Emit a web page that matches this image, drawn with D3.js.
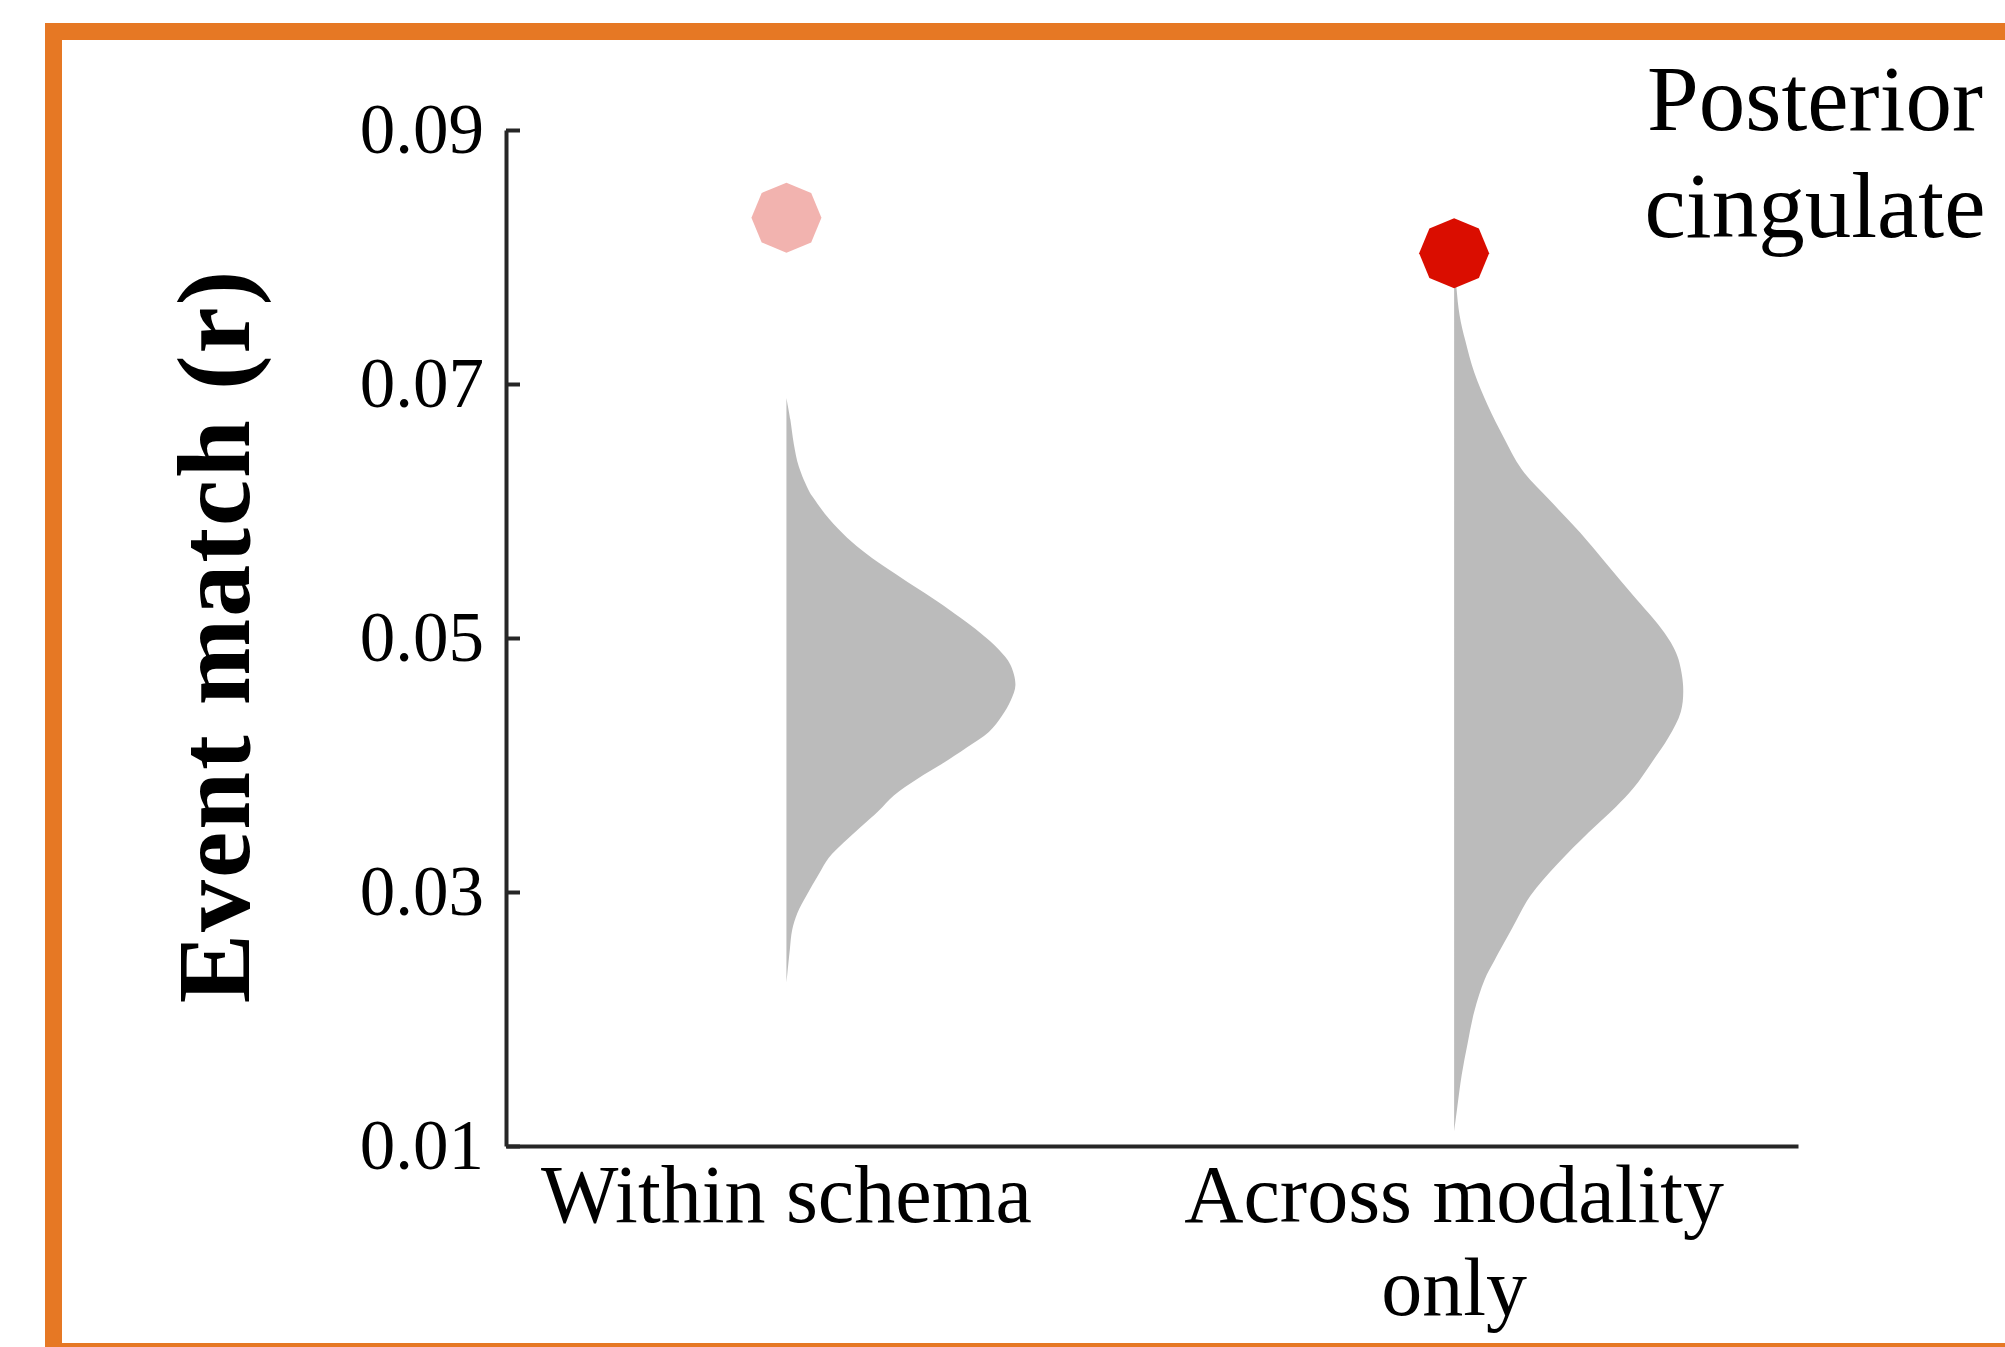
<!DOCTYPE html>
<html>
<head>
<meta charset="utf-8">
<script src="https://cdn.jsdelivr.net/npm/d3@7"></script>
<style>
  html, body { margin: 0; padding: 0; background: #ffffff; }
  svg { display: block; }
</style>
</head>
<body>
<script>
// ---------------- DATA ----------------
const categories = ["Within schema", "Across modality only"];
const categoryLabelLines = [["Within schema"], ["Across modality", "only"]];
const yTicks = [0.01, 0.03, 0.05, 0.07, 0.09];
const title = ["Posterior", "cingulate"];
const yTitle = "Event match (r)";

// observed event-match values (markers)
const observedValues = [0.0831, 0.0803];
const observedColors = ["#F2B3AF", "#DA0D00"];

// null distribution density (normalised) for "Within schema"
const withinValues = [0.0689, 0.0672, 0.0653, 0.0635, 0.0616, 0.0610, 0.0594, 0.0579, 0.0566, 0.0554,
  0.0541, 0.0529, 0.0516, 0.0504, 0.0491, 0.0479, 0.0463, 0.0451, 0.0439, 0.0426, 0.0414, 0.0401,
  0.0389, 0.0376, 0.0364, 0.0351, 0.0339, 0.0327, 0.0314, 0.0298, 0.0283, 0.0270, 0.0255, 0.0228];
const withinDensity = [0, 0.017, 0.032, 0.054, 0.098, 0.119, 0.185, 0.265, 0.352, 0.447,
  0.556, 0.658, 0.760, 0.847, 0.927, 0.978, 1.0, 0.98, 0.942, 0.884, 0.789, 0.680,
  0.571, 0.469, 0.403, 0.323, 0.25, 0.185, 0.141, 0.090, 0.047, 0.025, 0.015, 0];

// null distribution density (normalised) for "Across modality only"
const acrossValues = [0.0800, 0.0776, 0.0754, 0.0734, 0.0709, 0.0683, 0.0658, 0.0633, 0.0608, 0.0583,
  0.0558, 0.0533, 0.0508, 0.0493, 0.0483, 0.0462, 0.0442, 0.0422, 0.0402, 0.0382, 0.0367, 0.0347,
  0.0322, 0.0297, 0.0272, 0.0246, 0.0231, 0.0206, 0.0181, 0.0156, 0.0131, 0.0111];
const acrossDensity = [0, 0.010, 0.024, 0.049, 0.088, 0.147, 0.216, 0.294, 0.42, 0.55,
  0.667, 0.784, 0.902, 0.957, 0.98, 1.0, 0.99, 0.937, 0.863, 0.784, 0.706, 0.588,
  0.451, 0.333, 0.255, 0.176, 0.133, 0.088, 0.059, 0.033, 0.014, 0];

const violins = [
  { values: withinValues, density: withinDensity },
  { values: acrossValues, density: acrossDensity }
];

// ---------------- LAYOUT ----------------
const W = 2005, H = 1347;
const serif = "'Liberation Serif', 'DejaVu Serif', serif";
const axisColor = "#262626";
const violinFill = "#BBBBBB";
const violinHalfWidth = 229;
const markerRadius = 35;

const svg = d3.select("body").append("svg")
  .attr("width", W).attr("height", H)
  .attr("viewBox", `0 0 ${W} ${H}`);

svg.append("rect").attr("x", 0).attr("y", 0).attr("width", W).attr("height", H).attr("fill", "#fff");

// orange frame
svg.append("rect")
  .attr("x", 53.5).attr("y", 31.5)
  .attr("width", 2200).attr("height", 1320)
  .attr("fill", "none")
  .attr("stroke", "#E67824")
  .attr("stroke-width", 17);

// scales
const x = d3.scaleLinear().domain([0.58, 2.515]).range([506, 1798]);
const catX = i => x(i + 1);
const y = d3.scaleLinear().domain([0.01, 0.09]).range([1146, 130]);

// violins
violins.forEach((v, i) => {
  const cx = catX(i);
  const pts = v.values.map((val, k) => ({ val, d: v.density[k] }));
  const gen = d3.area()
    .curve(d3.curveCatmullRom.alpha(0.5))
    .y(d => y(d.val))
    .x0(cx)
    .x1(d => cx + d.d * violinHalfWidth);
  svg.append("path")
    .attr("d", gen(pts))
    .attr("fill", violinFill)
    .attr("stroke", "none");
});

// markers (octagons)
const octagon = d3.lineRadial()
  .angle((d, k) => k * Math.PI / 4)
  .radius(markerRadius)
  .curve(d3.curveLinearClosed);

observedValues.forEach((val, i) => {
  svg.append("path")
    .attr("d", octagon(d3.range(8)))
    .attr("transform", `translate(${catX(i)},${y(val)})`)
    .attr("fill", observedColors[i]);
});

// y axis
const yAxis = d3.axisLeft(y)
  .tickValues(yTicks)
  .tickFormat(d3.format(".2f"))
  .tickSizeInner(-14)
  .tickSizeOuter(0)
  .tickPadding(22);

const gy = svg.append("g").attr("transform", `translate(${x(0.58)},0)`).call(yAxis);
gy.select(".domain").attr("stroke", axisColor).attr("stroke-width", 4);
gy.selectAll(".tick line").attr("stroke", axisColor).attr("stroke-width", 4);
gy.selectAll(".tick text")
  .attr("font-family", serif)
  .attr("font-size", 71)
  .attr("fill", "#000");

// x axis
const xAxis = d3.axisBottom(x).tickValues([]).tickSizeOuter(0);
const gx = svg.append("g").attr("transform", `translate(0,${y(0.01)})`).call(xAxis);
gx.select(".domain").attr("stroke", axisColor).attr("stroke-width", 4);

// category labels
categoryLabelLines.forEach((lines, i) => {
  const t = svg.append("text")
    .attr("font-family", serif)
    .attr("font-size", 82)
    .attr("text-anchor", "middle")
    .attr("fill", "#000");
  lines.forEach((ln, k) => {
    t.append("tspan")
      .attr("x", catX(i))
      .attr("y", 1222 + k * 93)
      .text(ln);
  });
});

// y axis title
svg.append("text")
  .attr("transform", "translate(249,636) rotate(-90)")
  .attr("text-anchor", "middle")
  .attr("font-family", serif)
  .attr("font-weight", "bold")
  .attr("font-size", 104)
  .attr("letter-spacing", 2)
  .attr("fill", "#000")
  .text(yTitle);

// region title
const tt = svg.append("text")
  .attr("font-family", serif)
  .attr("font-size", 93)
  .attr("text-anchor", "middle")
  .attr("fill", "#000");
title.forEach((ln, k) => {
  tt.append("tspan").attr("x", 1815).attr("y", 130 + k * 107).text(ln);
});
</script>
</body>
</html>
